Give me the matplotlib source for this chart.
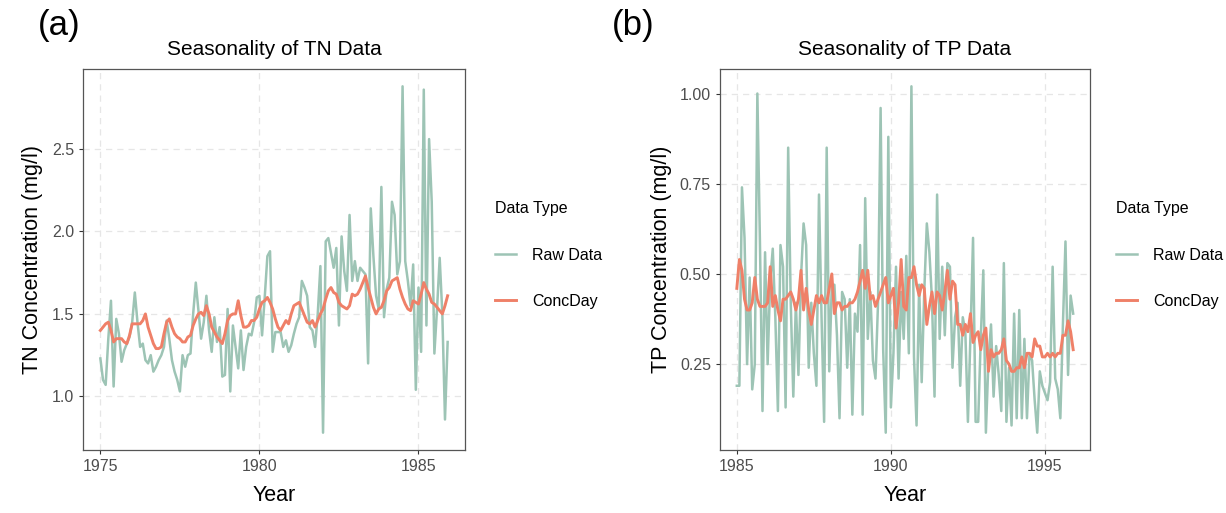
import numpy as np
import matplotlib.pyplot as plt

plt.rcParams['font.family'] = ['Liberation Sans', 'DejaVu Sans']

# monthly series, TN from Jan 1975, TP from Jan 1985
tn_start = 1975
tp_start = 1985

tn_raw = [1.23, 1.10, 1.07, 1.35, 1.58, 1.06, 1.47, 1.38, 1.21, 1.28, 1.32, 1.36,
          1.45, 1.63, 1.45, 1.30, 1.32, 1.22, 1.20, 1.25, 1.15, 1.18, 1.22, 1.25,
          1.30, 1.46, 1.35, 1.22, 1.15, 1.10, 1.03, 1.25, 1.18, 1.25, 1.26, 1.50,
          1.69, 1.52, 1.35, 1.45, 1.61, 1.40, 1.27, 1.48, 1.33, 1.42, 1.12, 1.13,
          1.53, 1.03, 1.43, 1.30, 1.17, 1.40, 1.16, 1.30, 1.38, 1.37, 1.45, 1.60,
          1.61, 1.37, 1.60, 1.85, 1.88, 1.27, 1.39, 1.39, 1.39, 1.30, 1.34, 1.27,
          1.31, 1.38, 1.44, 1.48, 1.70, 1.66, 1.61, 1.42, 1.40, 1.30, 1.50, 1.79,
          0.78, 1.94, 1.96, 1.87, 1.78, 1.90, 1.43, 1.97, 1.76, 1.64, 2.10, 1.70,
          1.82, 1.70, 1.78, 1.76, 1.74, 1.20, 2.14, 1.85, 1.61, 1.53, 2.27, 1.48,
          1.65, 1.72, 2.18, 2.10, 1.74, 1.82, 2.88, 1.82, 1.70, 1.55, 1.80, 1.04,
          1.66, 1.27, 2.86, 1.43, 2.56, 2.18, 1.26, 1.53, 1.84, 1.50, 0.86, 1.33]

tn_conc = [1.40, 1.42, 1.44, 1.45, 1.40, 1.33, 1.35, 1.35, 1.35, 1.33, 1.32, 1.37,
           1.44, 1.44, 1.44, 1.44, 1.46, 1.50, 1.42, 1.37, 1.32, 1.29, 1.29, 1.30,
           1.38, 1.45, 1.47, 1.42, 1.38, 1.36, 1.35, 1.33, 1.33, 1.36, 1.37, 1.43,
           1.47, 1.50, 1.51, 1.49, 1.55, 1.50, 1.42, 1.39, 1.36, 1.34, 1.32, 1.38,
           1.46, 1.49, 1.50, 1.50, 1.58, 1.49, 1.42, 1.42, 1.43, 1.46, 1.46, 1.48,
           1.53, 1.57, 1.58, 1.60, 1.57, 1.53, 1.47, 1.42, 1.40, 1.43, 1.46, 1.44,
           1.50, 1.55, 1.56, 1.57, 1.53, 1.49, 1.45, 1.44, 1.46, 1.42, 1.46, 1.50,
           1.53, 1.59, 1.64, 1.66, 1.63, 1.62, 1.57, 1.55, 1.54, 1.53, 1.55, 1.62,
           1.61, 1.62, 1.65, 1.69, 1.73, 1.66, 1.60, 1.54, 1.50, 1.53, 1.54, 1.58,
           1.64, 1.66, 1.70, 1.71, 1.72, 1.65, 1.60, 1.56, 1.53, 1.52, 1.58, 1.57,
           1.56, 1.62, 1.69, 1.65, 1.62, 1.57, 1.56, 1.54, 1.52, 1.50, 1.55, 1.61]

tp_raw = [0.19, 0.19, 0.74, 0.60, 0.25, 0.49, 0.18, 0.25, 1.00, 0.59, 0.12, 0.56,
          0.25, 0.48, 0.57, 0.38, 0.12, 0.58, 0.52, 0.13, 0.85, 0.42, 0.16, 0.42,
          0.22, 0.49, 0.64, 0.58, 0.24, 0.42, 0.28, 0.19, 0.72, 0.38, 0.09, 0.85,
          0.23, 0.47, 0.47, 0.33, 0.10, 0.45, 0.43, 0.24, 0.43, 0.11, 0.39, 0.34,
          0.58, 0.11, 0.71, 0.32, 0.45, 0.26, 0.21, 0.42, 0.96, 0.29, 0.06, 0.88,
          0.13, 0.28, 0.52, 0.21, 0.45, 0.32, 0.55, 0.28, 1.02, 0.27, 0.08, 0.47,
          0.20, 0.45, 0.64, 0.56, 0.43, 0.16, 0.72, 0.32, 0.52, 0.33, 0.53, 0.52,
          0.24, 0.38, 0.42, 0.19, 0.38, 0.34, 0.09, 0.33, 0.60, 0.09, 0.09, 0.32,
          0.51, 0.06, 0.26, 0.36, 0.16, 0.30, 0.22, 0.12, 0.53, 0.09, 0.24, 0.08,
          0.39, 0.10, 0.40, 0.10, 0.32, 0.10, 0.28, 0.26, 0.15, 0.06, 0.23, 0.19,
          0.17, 0.15, 0.20, 0.52, 0.21, 0.18, 0.10, 0.36, 0.59, 0.22, 0.44, 0.39]

tp_conc = [0.46, 0.54, 0.51, 0.43, 0.40, 0.40, 0.42, 0.49, 0.43, 0.41, 0.41, 0.41,
           0.42, 0.52, 0.41, 0.44, 0.40, 0.37, 0.43, 0.43, 0.44, 0.45, 0.43, 0.40,
           0.43, 0.51, 0.40, 0.46, 0.40, 0.36, 0.40, 0.44, 0.42, 0.44, 0.42, 0.42,
           0.46, 0.50, 0.39, 0.42, 0.42, 0.40, 0.41, 0.41, 0.42, 0.42, 0.43, 0.45,
           0.48, 0.51, 0.46, 0.51, 0.43, 0.44, 0.41, 0.43, 0.45, 0.47, 0.49, 0.42,
           0.44, 0.46, 0.35, 0.42, 0.54, 0.41, 0.40, 0.49, 0.49, 0.52, 0.47, 0.44,
           0.47, 0.46, 0.36, 0.41, 0.45, 0.39, 0.45, 0.44, 0.40, 0.45, 0.51, 0.43,
           0.48, 0.47, 0.36, 0.36, 0.33, 0.36, 0.34, 0.39, 0.31, 0.33, 0.34, 0.29,
           0.33, 0.35, 0.23, 0.29, 0.27, 0.28, 0.28, 0.29, 0.32, 0.26, 0.25, 0.23,
           0.23, 0.24, 0.24, 0.27, 0.24, 0.28, 0.28, 0.27, 0.32, 0.30, 0.30, 0.27,
           0.27, 0.28, 0.27, 0.28, 0.27, 0.28, 0.28, 0.33, 0.33, 0.37, 0.34, 0.29]

tn_yticks = [1.0, 1.5, 2.0, 2.5]
tp_yticks = [0.25, 0.50, 0.75, 1.00]
tn_xticks = [1975, 1980, 1985]
tp_xticks = [1985, 1990, 1995]

raw_col = '#9DC4B5'
conc_col = '#EF8068'
grid_col = '#E6E6E6'
text_col = '#4D4D4D'

W, H = 1226, 513
fig = plt.figure(figsize=(W / 100, H / 100), dpi=100)


def panel(rect, start, raw, conc, title, ylabel, xticks, yticks, yfmt):
    ax = fig.add_axes(rect)
    t = start + np.arange(len(raw)) / 12
    l1, = ax.plot(t, raw, color=raw_col, lw=1.8, label='Raw Data', zorder=3)
    l2, = ax.plot(t, conc, color=conc_col, lw=2.1, label='ConcDay', zorder=4)
    # ggplot style 5% padding
    xr = t[-1] - t[0]
    ax.set_xlim(t[0] - 0.05 * xr, t[-1] + 0.05 * xr)
    lo, hi = min(raw + conc), max(raw + conc)
    yr = hi - lo
    ax.set_ylim(lo - 0.05 * yr, hi + 0.05 * yr)
    ax.set_xticks(xticks)
    ax.set_yticks(yticks)
    ax.set_yticklabels([yfmt.format(v) for v in yticks])
    ax.grid(True, color=grid_col, lw=0.9, ls=(0, (5, 4)))
    ax.set_axisbelow(True)
    for s in ax.spines.values():
        s.set_color('#555555')
        s.set_linewidth(0.9)
    ax.tick_params(colors='#333333', labelcolor=text_col, labelsize=11.5, length=3, width=0.8)
    ax.set_title(title, fontsize=15, pad=10)
    ax.set_xlabel('Year', fontsize=15.5, labelpad=8)
    ax.set_ylabel(ylabel, fontsize=15.5, labelpad=6)
    return ax, l1, l2


def legend(ax, handles, x):
    leg = ax.legend(handles=handles, loc='upper left',
                    bbox_to_anchor=(x / W, 1 - 187 / H), bbox_transform=fig.transFigure,
                    frameon=False, title='Data Type', fontsize=11.5, title_fontsize=11.5,
                    labelspacing=1.95, handlelength=1.3, handletextpad=1.0,
                    alignment='left')
    return leg


axa, a1, a2 = panel([83 / W, 1 - 450 / H, 382 / W, 381 / H], tn_start, tn_raw, tn_conc,
                    'Seasonality of TN Data', 'TN Concentration (mg/l)',
                    tn_xticks, tn_yticks, '{:.1f}')
axb, b1, b2 = panel([720 / W, 1 - 450 / H, 370 / W, 381 / H], tp_start, tp_raw, tp_conc,
                    'Seasonality of TP Data', 'TP Concentration (mg/l)',
                    tp_xticks, tp_yticks, '{:.2f}')

legend(axa, [a1, a2], 481)
legend(axb, [b1, b2], 1102)

fig.text(38 / W, 1 - 26 / H, '(a)', fontsize=25, va='center', ha='left')
fig.text(612 / W, 1 - 26 / H, '(b)', fontsize=25, va='center', ha='left')

fig.savefig('out.png', dpi=100)
